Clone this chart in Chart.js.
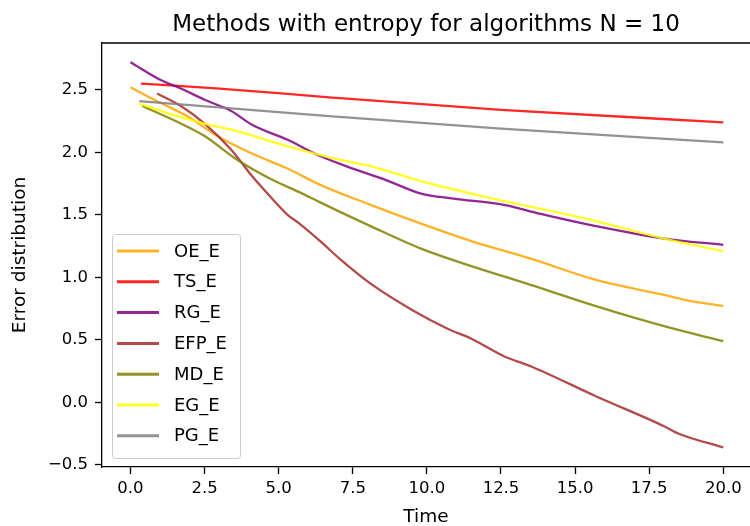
<!DOCTYPE html>
<html lang="en">
<head>
    <meta charset="UTF-8">
    <title>Methods with entropy for algorithms N = 10</title>
    <script src="https://cdn.jsdelivr.net/npm/chart.js"></script>
    <style>
        body { margin: 0; background: #fff; overflow: hidden; }
    </style>
</head>
<body>
    <canvas id="chart" width="750" height="526"></canvas>
    <script>
        // values, one time array + one value array per method
        const oeTime = [0, 0.8, 1.9, 3, 4.1, 5.3, 6.4, 8.1, 9.8, 11.5, 13.5, 15.7, 18, 18.7, 20];
        const oeValues = [2.52, 2.42, 2.29, 2.12, 1.99, 1.87, 1.74, 1.58, 1.43, 1.29, 1.15, 0.98, 0.86, 0.82, 0.77];

        const tsTime = [0.35, 3, 6.7, 12.5, 20];
        const tsValues = [2.55, 2.51, 2.44, 2.34, 2.24];

        const rgTime = [0, 1, 1.7, 2.5, 3.4, 4.1, 5.3, 6.4, 7.5, 8.6, 9.8, 10.9, 12.6, 13.8, 15.7, 18, 20];
        const rgValues = [2.72, 2.58, 2.51, 2.42, 2.33, 2.22, 2.10, 1.97, 1.87, 1.78, 1.67, 1.63, 1.58, 1.51, 1.41, 1.31, 1.26];

        const efpTime = [0.9, 1.7, 2.5, 3.4, 4.1, 4.7, 5.3, 5.7, 6.4, 7.1, 8.1, 9.5, 10.7, 11.5, 12.6, 13.5, 15.7, 18, 18.5, 20];
        const efpValues = [2.47, 2.37, 2.23, 2.02, 1.81, 1.65, 1.50, 1.43, 1.29, 1.14, 0.95, 0.74, 0.59, 0.51, 0.37, 0.29, 0.05, -0.19, -0.25, -0.36];

        const mdTime = [0.4, 1.7, 2.5, 3.6, 4.7, 5.8, 6.4, 8.1, 9.8, 11.5, 13.5, 15.7, 18, 20];
        const mdValues = [2.37, 2.23, 2.13, 1.94, 1.79, 1.67, 1.60, 1.41, 1.23, 1.09, 0.94, 0.77, 0.61, 0.49];

        const egTime = [0.3, 1.3, 2.5, 3.6, 4.7, 5.9, 6.7, 8.1, 9.8, 11.5, 12.6, 13.8, 15.7, 18, 20];
        const egValues = [2.39, 2.31, 2.23, 2.17, 2.09, 2.01, 1.96, 1.89, 1.77, 1.67, 1.61, 1.55, 1.45, 1.31, 1.21];

        const pgTime = [0.3, 6.7, 12.5, 20];
        const pgValues = [2.41, 2.29, 2.19, 2.08];

        const labels = ['OE_E', 'TS_E', 'RG_E', 'EFP_E', 'MD_E', 'EG_E', 'PG_E'];
        const colors = ['255,165,0', '255,0,0', '128,0,128', '165,42,42', '128,128,0', '255,255,0', '128,128,128'];

        const xTicks = [0, 2.5, 5, 7.5, 10, 12.5, 15, 17.5, 20];
        const yTicks = [-0.5, 0, 0.5, 1, 1.5, 2, 2.5];

        const series = [
            [oeTime, oeValues], [tsTime, tsValues], [rgTime, rgValues], [efpTime, efpValues],
            [mdTime, mdValues], [egTime, egValues], [pgTime, pgValues]
        ];

        const font = 'DejaVu Sans';
        const fmt = v => v.toFixed(1).replace('-', '\u2212');

        // matplotlib style legend box in the lower left of the axes
        const boxLegend = {
            id: 'boxLegend',
            afterDatasetsDraw(chart) {
                const { ctx, chartArea } = chart;
                const sets = chart.data.datasets;
                const rowH = 30.8;
                const w = 128, h = 224;
                const x0 = chartArea.left + 10;
                const y0 = chartArea.bottom - 9 - h;
                ctx.save();
                ctx.beginPath();
                ctx.roundRect(x0 + 0.5, y0 + 0.5, w, h, 3);
                ctx.fillStyle = 'rgba(255,255,255,0.8)';
                ctx.fill();
                ctx.strokeStyle = '#cccccc';
                ctx.lineWidth = 1;
                ctx.stroke();
                ctx.font = '18px "' + font + '"';
                ctx.textBaseline = 'middle';
                ctx.textAlign = 'left';
                sets.forEach((ds, i) => {
                    const y = y0 + 17 + i * rowH;
                    ctx.beginPath();
                    ctx.moveTo(x0 + 5, y);
                    ctx.lineTo(x0 + 47, y);
                    ctx.strokeStyle = ds.borderColor;
                    ctx.lineWidth = 3;
                    ctx.stroke();
                    ctx.fillStyle = '#000';
                    ctx.fillText(ds.label, x0 + 62, y + 1);
                });
                ctx.restore();
            }
        };

        // top spine
        const frame = {
            id: 'frame',
            afterDraw(chart) {
                const { ctx, chartArea } = chart;
                ctx.save();
                ctx.strokeStyle = '#000';
                ctx.lineWidth = 1.3;
                ctx.beginPath();
                ctx.moveTo(chartArea.left, chartArea.top);
                ctx.lineTo(chartArea.right, chartArea.top);
                ctx.stroke();
                ctx.restore();
            }
        };

        const ctx = document.getElementById('chart').getContext('2d');
        new Chart(ctx, {
            type: 'line',
            data: {
                datasets: series.map(([t, v], i) => ({
                    label: labels[i],
                    data: t.map((x, k) => ({ x: x, y: v[k] })),
                    borderColor: 'rgba(' + colors[i] + ',0.85)',
                    backgroundColor: 'rgba(' + colors[i] + ',0.85)',
                    borderWidth: 2.3,
                    pointRadius: 0,
                    cubicInterpolationMode: 'monotone',
                    fill: false,
                    order: labels.length - i
                }))
            },
            options: {
                responsive: false,
                animation: false,
                devicePixelRatio: 1,
                layout: { padding: 0 },
                plugins: {
                    legend: { display: false },
                    tooltip: { enabled: false },
                    title: {
                        display: true,
                        fullSize: false,
                        text: 'Methods with entropy for algorithms N = 10',
                        color: '#000',
                        font: { family: font, size: 23, weight: 'normal', lineHeight: 1.2 },
                        padding: { top: 11, bottom: 4.4 }
                    }
                },
                scales: {
                    x: {
                        type: 'linear',
                        min: -0.96,
                        max: 20.9,
                        afterBuildTicks: s => { s.ticks = xTicks.map(v => ({ value: v })); },
                        afterFit: s => { s.height = 59; },
                        grid: { display: true, drawOnChartArea: false, drawTicks: true, tickLength: 7, color: '#000', tickWidth: 1.3 },
                        border: { display: true, color: '#000', width: 1.3 },
                        ticks: {
                            color: '#000',
                            padding: 5,
                            maxRotation: 0,
                            font: { family: font, size: 16.5 },
                            callback: v => fmt(v)
                        },
                        title: {
                            display: true,
                            text: 'Time',
                            color: '#000',
                            font: { family: font, size: 18.5, lineHeight: 1 },
                            padding: { top: 0, bottom: 0 }
                        }
                    },
                    y: {
                        type: 'linear',
                        min: -0.516,
                        max: 2.874,
                        afterBuildTicks: s => { s.ticks = yTicks.map(v => ({ value: v })); },
                        afterFit: s => { s.width = 102; },
                        grid: { display: true, drawOnChartArea: false, drawTicks: true, tickLength: 7, color: '#000', tickWidth: 1.3 },
                        border: { display: true, color: '#000', width: 1.3 },
                        ticks: {
                            color: '#000',
                            padding: 7,
                            font: { family: font, size: 16.5 },
                            callback: v => fmt(v)
                        },
                        title: {
                            display: true,
                            text: 'Error distribution',
                            color: '#000',
                            font: { family: font, size: 18.5, lineHeight: 1 },
                            padding: { top: 10.5, bottom: 0 }
                        }
                    }
                }
            },
            plugins: [boxLegend, frame]
        });
    </script>
</body>
</html>
